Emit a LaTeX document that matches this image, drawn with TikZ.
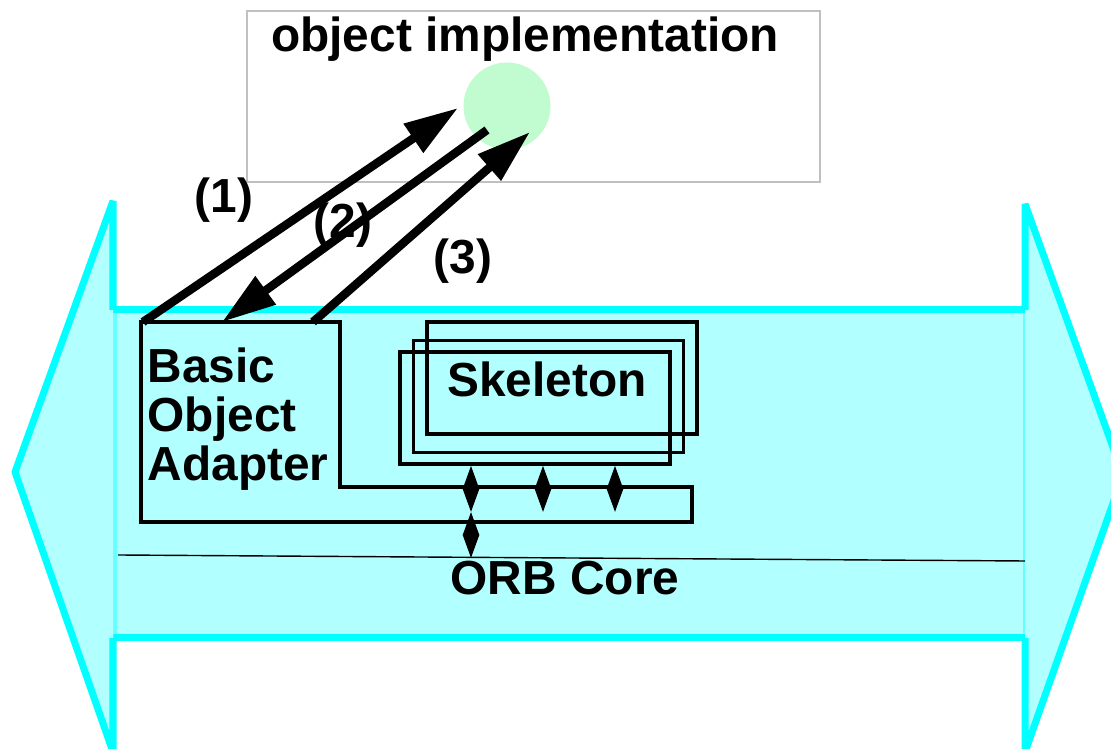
\documentclass[tikz,border=0pt]{standalone}
\usepackage{fontspec}
\setmainfont{Liberation Sans}
\usepackage{tikz}
\usetikzlibrary{positioning, arrows.meta, calc}

\definecolor{orbfill}{RGB}{178,255,255}
\definecolor{orbline}{RGB}{0,255,255}
\definecolor{servantgreen}{RGB}{192,252,208}
\definecolor{implgray}{RGB}{192,192,192}

\begin{document}
\begin{tikzpicture}[x=0.01cm, y=-0.01cm,
  every node/.style={font=\fontsize{13.6}{14}\selectfont\bfseries, inner sep=0pt},
  callarrow/.style={line width=0.085cm, -{Triangle[length=0.54cm, width=0.33cm]}},
  updown/.style={line width=0.6pt, {Triangle[length=0.23cm, width=0.16cm]}-{Triangle[length=0.23cm, width=0.16cm]}},
  skel/.style={draw, line width=0.035cm, minimum width=2.7cm, minimum height=1.12cm}]
  \clip (0,0) rectangle (1111,749);

  % ORB bus: shaft and both heads
  \fill[orbfill] (113,310) rectangle (1025,638);
  \draw[orbline!60, line width=0.04cm] (115,310) -- (115,638) (1025,310) -- (1025,638);
  \draw[orbline, line width=0.07cm] (113,310) -- (1025,310) (113,638) -- (1025,638);
  \filldraw[fill=orbfill, draw=orbline, line width=0.07cm, line join=bevel] (113,310) -- (113,201) -- (15,472) -- (113,752) -- (113,638);
  \filldraw[fill=orbfill, draw=orbline, line width=0.07cm, line join=bevel] (1025,310) -- (1025,204) -- (1123,475) -- (1025,752) -- (1025,638);
  \draw[line width=0.4pt] (118,555) -- (1025,561);
  \node[anchor=base] (core) at (565,595) {ORB Core};

  % object implementation
  \node[draw=implgray, line width=0.02cm, minimum width=5.73cm, minimum height=1.71cm] (impl) at (533.5,96.5) {};
  \node[anchor=base] (impltext) at (525,52) {object implementation};
  \node[circle, fill=servantgreen, minimum size=0.87cm] (servant) at (507,106) {};

  % Basic Object Adapter
  \draw[line width=0.035cm] (141,322) -- (340,322) -- (340,487) -- (692,487) -- (692,522) -- (141,522) -- cycle;
  \node[anchor=north west, align=left] (boa) at (147,347) {Basic\\Object\\Adapter};

  % Skeletons
  \node[skel] (skel3) at (562,378) {};
  \node[skel] (skel2) at (548.5,396.5) {};
  \node[skel] (skel1) at (535,408) {};
  \node[anchor=base] (skeltext) at (547,397) {Skeleton};

  \coordinate (d1) at (471,512);
  \coordinate (d2) at (543,512);
  \coordinate (d3) at (615,512);
  \coordinate (orb) at (471,558);
  \draw[updown] (skel1.south -| d1) -- (d1);
  \draw[updown] (skel1.south -| d2) -- (d2);
  \draw[updown] (skel1.south -| d3) -- (d3);
  \draw[updown] (d1) -- (orb);

  % calls between adapter and servant
  \coordinate (boa1) at (143,322);
  \coordinate (boa2) at (222,322);
  \coordinate (boa3) at (313,322);
  \coordinate (in1) at (458,108);
  \coordinate (out2) at (487,130);
  \coordinate (in3) at (530,132);
  \draw[callarrow] (boa1) -- (in1);
  \draw[callarrow] (out2) -- (boa2);
  \draw[callarrow] (boa3) -- (in3);
  \node (l1) at (224,200) {(1)};
  \node (l2) at (343,225) {(2)};
  \node (l3) at (463,261) {(3)};
\end{tikzpicture}
\end{document}
